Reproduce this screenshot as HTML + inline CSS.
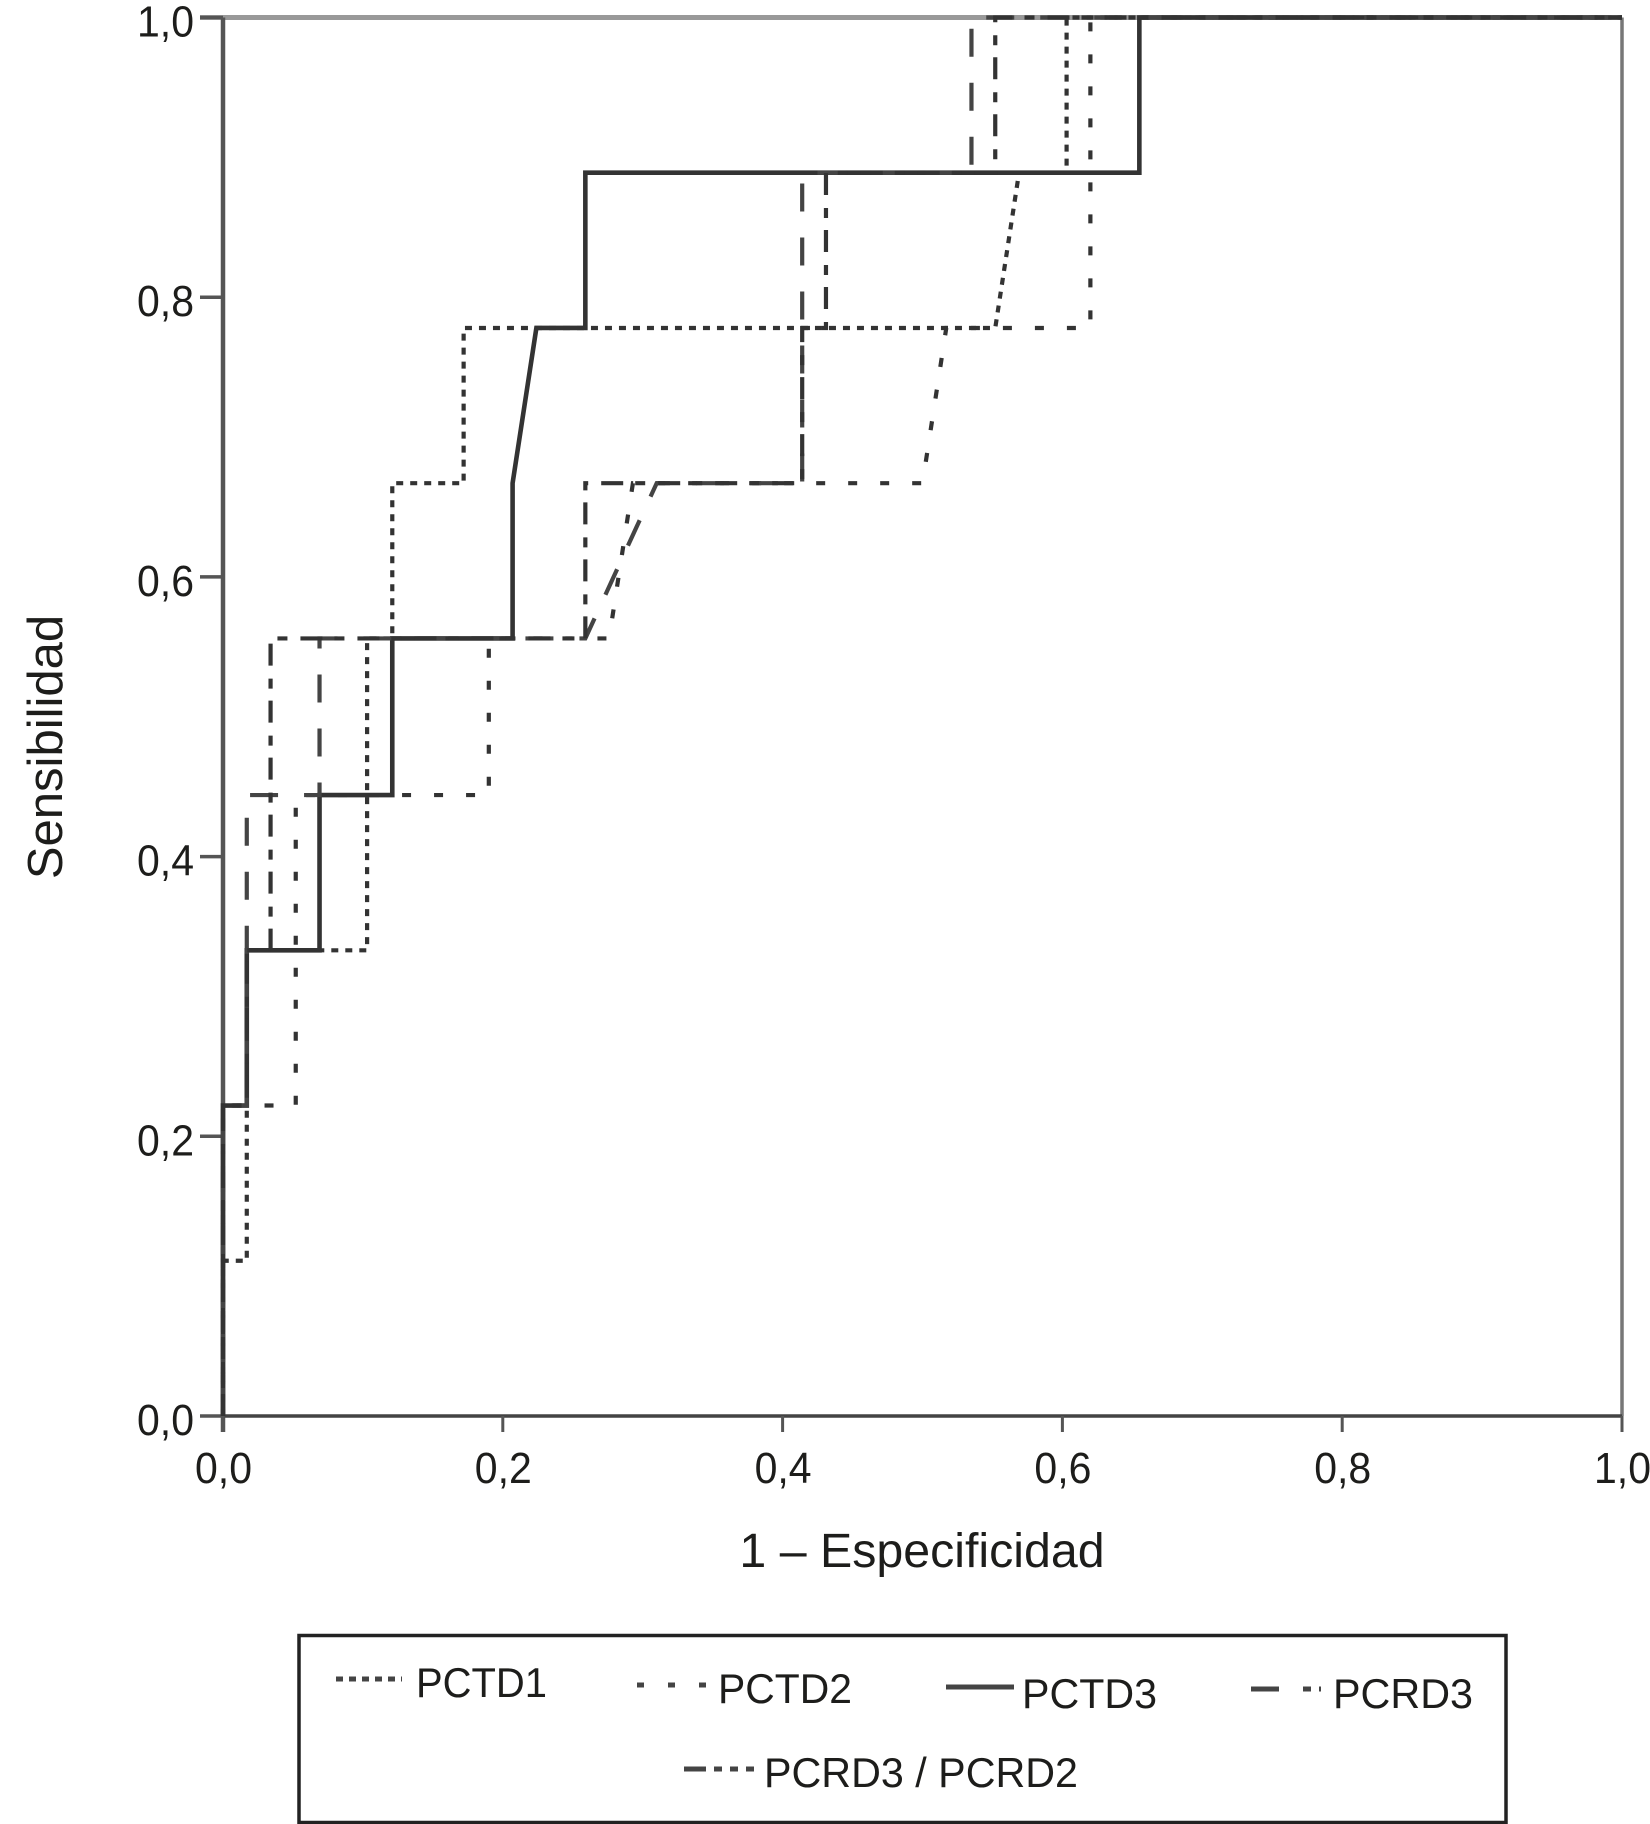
<!DOCTYPE html>
<html lang="es">
<head>
<meta charset="utf-8">
<title>Curvas ROC</title>
<style>
html,body{margin:0;padding:0;background:#fff;}
svg{display:block;}
text{font-family:"Liberation Sans",sans-serif;fill:#1d1d1b;}
</style>
</head>
<body>
<svg id="chart" xmlns="http://www.w3.org/2000/svg" width="1650" height="1824" viewBox="0 0 1650 1824"></svg>
<script>
const xTicks = [0, 0.2, 0.4, 0.6, 0.8, 1];
const yTicks = [0, 0.2, 0.4, 0.6, 0.8, 1];
const xTickLabels = ["0,0", "0,2", "0,4", "0,6", "0,8", "1,0"];
const yTickLabels = ["0,0", "0,2", "0,4", "0,6", "0,8", "1,0"];
const seriesNames = ["PCTD1", "PCTD2", "PCTD3", "PCRD3", "PCRD3 / PCRD2"];

const pctd1X = [0, 0, 0.017, 0.017, 0.103, 0.103, 0.121, 0.121, 0.172, 0.172, 0.552, 0.569, 0.603, 0.603, 1];
const pctd1Y = [0, 0.111, 0.111, 0.333, 0.333, 0.556, 0.556, 0.667, 0.667, 0.778, 0.778, 0.889, 0.889, 1, 1];

const pctd2X = [0, 0, 0.052, 0.052, 0.19, 0.19, 0.276, 0.293, 0.5, 0.517, 0.62, 0.62, 1];
const pctd2Y = [0, 0.222, 0.222, 0.444, 0.444, 0.556, 0.556, 0.667, 0.667, 0.778, 0.778, 1, 1];

const pctd3X = [0, 0, 0.017, 0.017, 0.069, 0.069, 0.121, 0.121, 0.207, 0.207, 0.224, 0.259, 0.259, 0.655, 0.655, 1];
const pctd3Y = [0, 0.222, 0.222, 0.333, 0.333, 0.444, 0.444, 0.556, 0.556, 0.667, 0.778, 0.778, 0.889, 0.889, 1, 1];

const pcrd3X = [0, 0, 0.017, 0.017, 0.069, 0.069, 0.259, 0.31, 0.414, 0.414, 0.535, 0.535, 1];
const pcrd3Y = [0, 0.222, 0.222, 0.444, 0.444, 0.556, 0.556, 0.667, 0.667, 0.889, 0.889, 1, 1];

const pcrd32X = [0, 0, 0.017, 0.017, 0.034, 0.034, 0.259, 0.259, 0.414, 0.414, 0.431, 0.431, 0.552, 0.552, 1];
const pcrd32Y = [0, 0.222, 0.222, 0.333, 0.333, 0.556, 0.556, 0.667, 0.667, 0.778, 0.778, 0.889, 0.889, 1, 1];

const NS = "http://www.w3.org/2000/svg";
const svg = document.getElementById("chart");
const plot = {left: 223, right: 1622, top: 17.5, bottom: 1416};
function sx(v) { return plot.left + v * (plot.right - plot.left); }
function sy(v) { return plot.bottom - v * (plot.bottom - plot.top); }

function make(tag, attrs, text) {
  const el = document.createElementNS(NS, tag);
  for (const k in attrs) el.setAttribute(k, attrs[k]);
  if (text !== undefined) el.textContent = text;
  svg.appendChild(el);
  return el;
}

const styles = [
  {dash: "7 7", color: "#333", width: 4.2, key: "pctd1"},
  {dash: "9 23", color: "#333", width: 4.2, key: "pctd2"},
  {dash: "", color: "#333", width: 4.6, key: "pctd3"},
  {dash: "28 26", color: "#444", width: 4.2, key: "pcrd3"},
  {dash: "22 12 10 13", color: "#333", width: 4.2, key: "pcrd3-pcrd2"}
];

/* frame */
let el;
el = make("line", {x1: plot.left - 23, y1: plot.top, x2: plot.right, y2: plot.top, stroke: "#999", "stroke-width": 5});


el = make("line", {x1: plot.right, y1: plot.top, x2: plot.right, y2: plot.bottom, stroke: "#777", "stroke-width": 3.5});


el = make("line", {x1: plot.left, y1: plot.top, x2: plot.left, y2: plot.bottom + 16, stroke: "#555", "stroke-width": 4.5});


el = make("line", {x1: plot.left, y1: plot.bottom, x2: plot.right, y2: plot.bottom, stroke: "#444", "stroke-width": 3.5});



/* ticks */
xTicks.forEach(function (t, i) {
  const tick = make("line", {x1: sx(t), y1: plot.bottom, x2: sx(t), y2: plot.bottom + 16, stroke: "#555", "stroke-width": 3});
  
  
  const label = make("text", {x: sx(t) - 28, y: 1483, "font-size": 44, textLength: 57, lengthAdjust: "spacingAndGlyphs"}, xTickLabels[i]);
  
  
});
yTicks.forEach(function (t, i) {
  const tick = make("line", {x1: 200, y1: sy(t), x2: plot.left, y2: sy(t), stroke: "#555", "stroke-width": 3.5});
  
  
  const label = make("text", {x: 137, y: sy(t) + 19, "font-size": 44, textLength: 57, lengthAdjust: "spacingAndGlyphs"}, yTickLabels[i]);
  
  
});

/* series */
const seriesX = [pctd1X, pctd2X, pctd3X, pcrd3X, pcrd32X];
const seriesY = [pctd1Y, pctd2Y, pctd3Y, pcrd3Y, pcrd32Y];
seriesX.forEach(function (xs, i) {
  const ys = seriesY[i];
  const pts = xs.map(function (x, j) { return sx(x) + "," + sy(ys[j]); }).join(" ");
  const st = styles[i];
  const line = make("polyline", {points: pts, fill: "none", stroke: st.color, "stroke-width": st.width, "stroke-linejoin": "miter"});
  if (st.dash) line.setAttribute("stroke-dasharray", st.dash);
  
  line.setAttribute('data-series', st.key);
  
});

/* axis titles */
el = make("text", {x: 922, y: 1567, "text-anchor": "middle", "font-size": 48.3}, "1 \u2013 Especificidad");


el = make("text", {transform: "translate(62,747) rotate(-90)", "text-anchor": "middle", "font-size": 49}, "Sensibilidad");



/* legend */
el = make("rect", {x: 299, y: 1635.5, width: 1207, height: 187, fill: "#fff", stroke: "#222", "stroke-width": 3.5});



const legendLayout = [
  {x1: 336, x2: 402, y: 1679, tx: 416, ty: 1697, w: 131, dash: "7 6"},
  {x1: 637, x2: 707, y: 1685, tx: 718, ty: 1703, w: 134, dash: "7 24"},
  {x1: 946, x2: 1014, y: 1687, tx: 1022, ty: 1708, w: 135, dash: ""},
  {x1: 1251, x2: 1321, y: 1689, tx: 1333, ty: 1708, w: 140, dash: "28 24 8 8"},
  {x1: 684, x2: 754, y: 1769, tx: 764, ty: 1787, w: 314, dash: "22 8 8 8 8 8"}
];
seriesNames.forEach(function (name, i) {
  const l = legendLayout[i];
  const sw = make("line", {x1: l.x1, y1: l.y, x2: l.x2, y2: l.y, stroke: "#444", "stroke-width": 5});
  if (l.dash) sw.setAttribute("stroke-dasharray", l.dash);
  
  
  const label = make("text", {x: l.tx, y: l.ty, "font-size": 42, textLength: l.w, lengthAdjust: "spacingAndGlyphs"}, name);
  
  
});
</script>
</body>
</html>
